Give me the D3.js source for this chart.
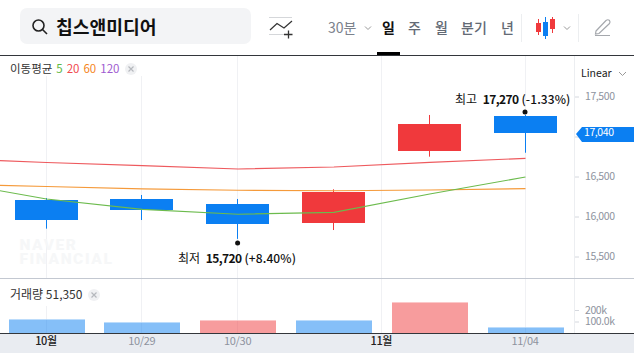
<!DOCTYPE html>
<html>
  <head>
    <meta charset="utf-8">
    <title>칩스앤미디어</title>
    <script src="https://d3js.org/d3.v7.min.js"></script>
    <style>
    html, body { margin: 0; padding: 0; background: white; overflow: hidden; }
    text { font-family: "Noto Sans CJK KR", "Noto Sans", sans-serif; }
    .price-axis text, .volume-axis text { font-size: 10.5px; fill: #8e939e; letter-spacing: -0.4px; }
    .price-axis line, .volume-axis line { stroke: #d5d8de; }
    .date-axis text { font-size: 11px; fill: #8e939e; letter-spacing: -0.3px; }
    .date-axis text.month { fill: #222; font-weight: 500; }
    .tool { font-size: 14px; fill: #636a75; font-weight: 500; }
    </style>
  </head>
  <body>
      <script>
          var width = 634;
          var height = 353;

          // daily candles, 10/28 .. 11/04 (the chart's tick labels only show some of them)
          var dates  = ["10/28", "10/29", "10/30", "10/31", "11/01", "11/04"];
          var opens  = [16206, 16219, 16156, 15922, 16819, 17256];
          var closes = [15956, 16081, 15910, 16310, 17156, 17040];
          var highs  = [16231, 16269, 16219, 16340, 17269, 17270];
          var lows   = [15848, 15956, 15720, 15831, 16748, 16797];
          var volumes = [122000, 96000, 113000, 113000, 270000, 51350];
          // volume bars follow the change from the previous close, not the candle body
          var volumeUp = [false, false, true, false, true, false];

          // moving averages, first value belongs to the candle just off the left edge
          var maIndex = [-1, 0, 1, 2, 3, 4, 5];
          var ma5  = [16431, 16219, 16090, 16028, 16052, 16281, 16494];
          var ma20 = [16725, 16675, 16637, 16594, 16619, 16677, 16727];
          var ma60 = [16406, 16375, 16346, 16328, 16322, 16331, 16348];

          var priceTicks = [15500, 16000, 16500, 17000, 17500];
          var priceTickLabels = ["15,500", "16,000", "16,500", "", "17,500"];
          var volumeTicks = [100000, 200000];
          var volumeTickLabels = ["100.0k", "200k"];
          var dateTicks = [0, 1, 2, 3.5, 5];
          var dateTickLabels = ["10월", "10/29", "10/30", "11월", "11/04"];
          var periods = ["일", "주", "월", "분기", "년"];

          var blue = "#0b7ff2";
          var red = "#f0393c";

          var x = d3.scaleLinear().domain([0, 5]).range([46.5, 525.5]);
          var y = d3.scaleLinear().domain([15500, 17500]).range([256.5, 96.5]);
          var yVol = d3.scaleLinear().domain([0, 200000]).range([333, 310]);

          var svg = d3.select("body")
                      .append("svg")
                      .attr("height", height)
                      .attr("width", width)
                      .style("display", "block")
                      .style("background", "white");

          // clip for lines running off the left side
          svg.append("clipPath").attr("id", "pane")
             .append("rect").attr("x", 0).attr("y", 56).attr("width", 574).attr("height", 222);

          // ---- grid
          svg.append("g").selectAll("line")
             .data(dateTicks)
             .enter().append("line")
             .attr("x1", function(d){ return Math.round(x(d)) - 0.5; })
             .attr("x2", function(d){ return Math.round(x(d)) - 0.5; })
             .attr("y1", 56).attr("y2", 333)
             .attr("stroke", "#f0f1f4");
          svg.append("line").attr("x1", 574.5).attr("x2", 574.5).attr("y1", 56).attr("y2", 333).attr("stroke", "#eceef1");

          // legends sit on white boxes that hide the grid
          svg.append("rect").attr("x", 0).attr("y", 56).attr("width", 150).attr("height", 20).attr("fill", "white");
          svg.append("rect").attr("x", 0).attr("y", 279).attr("width", 110).attr("height", 27).attr("fill", "white");

          // watermark
          var mark = svg.append("text").attr("fill", "#f6f7f8").style("font-weight", 900)
                        .style("font-family", "Roboto, sans-serif").style("font-size", "15.5px").style("letter-spacing", "1.6px");
          mark.append("tspan").attr("x", 19.5).attr("y", 249.5).text("NAVER");
          mark.append("tspan").attr("x", 19.5).attr("y", 263.5).text("FINANCIAL");

          // ---- candles
          var candles = svg.append("g").selectAll("g")
                           .data(dates)
                           .enter().append("g");

          function candleColor(i) { return closes[i] >= opens[i] ? red : blue; }

          candles.append("line")
                 .attr("x1", function(d, i){ return Math.round(x(i)) - 0.5; })
                 .attr("x2", function(d, i){ return Math.round(x(i)) - 0.5; })
                 .attr("y1", function(d, i){ return y(highs[i]); })
                 .attr("y2", function(d, i){ return y(lows[i]); })
                 .attr("stroke", function(d, i){ return candleColor(i); });

          candles.append("rect")
                 .attr("x", function(d, i){ return Math.round(x(i)) - 32; })
                 .attr("width", 63)
                 .attr("y", function(d, i){ return Math.round(y(Math.max(opens[i], closes[i]))); })
                 .attr("height", function(d, i){ return Math.round(Math.abs(y(opens[i]) - y(closes[i]))); })
                 .attr("fill", function(d, i){ return candleColor(i); });

          // ---- moving averages, over the candles
          var line = d3.line()
                       .x(function(d, i){ return x(maIndex[i]); })
                       .y(function(d){ return y(d); });

          var maGroup = svg.append("g").attr("clip-path", "url(#pane)").attr("fill", "none").attr("stroke-width", 1.2);
          maGroup.append("path").attr("d", line(ma20)).attr("stroke", "#ee5a5e");
          maGroup.append("path").attr("d", line(ma60)).attr("stroke", "#f59a3a");
          maGroup.append("path").attr("d", line(ma5)).attr("stroke", "#6cbb4d");

          // ---- high / low markers
          svg.append("circle").attr("cx", x(5) - 0.5).attr("cy", y(17270) - 3).attr("r", 2.5).attr("fill", "#111");
          svg.append("circle").attr("cx", x(2) - 0.5).attr("cy", y(15720) + 4).attr("r", 2.5).attr("fill", "#111");

          var hi = svg.append("text").attr("x", 455).attr("y", 104).style("font-size", "12px").attr("fill", "#111");
          hi.append("tspan").text("최고 ");
          hi.append("tspan").attr("dx", 3).style("font-weight", 700).style("letter-spacing", "-0.6px").text("17,270");
          hi.append("tspan").attr("dx", 3).style("font-weight", 500).style("letter-spacing", "0.1px").text("(-1.33%)");

          var lo = svg.append("text").attr("x", 178).attr("y", 263).style("font-size", "12px").attr("fill", "#111");
          lo.append("tspan").text("최저 ");
          lo.append("tspan").attr("dx", 3).style("font-weight", 700).style("letter-spacing", "-0.6px").text("15,720");
          lo.append("tspan").attr("dx", 3).style("font-weight", 500).style("letter-spacing", "0.1px").text("(+8.40%)");

          // ---- volume bars
          var volGroup = svg.append("g").selectAll("g").data(volumes).enter().append("g");
          volGroup.append("rect")
                  .attr("x", function(d, i){ return Math.round(x(i)) - 38; })
                  .attr("width", 76)
                  .attr("y", function(d){ return Math.round(yVol(d)); })
                  .attr("height", function(d){ return 333 - Math.round(yVol(d)); })
                  .attr("fill", function(d, i){ return volumeUp[i] ? red : blue; })
                  .attr("opacity", 0.5);
          volGroup.append("rect")
                  .attr("x", function(d, i){ return Math.round(x(i)) - 38; })
                  .attr("width", 76)
                  .attr("y", function(d){ return Math.round(yVol(d)); })
                  .attr("height", 1)
                  .attr("fill", "white")
                  .attr("opacity", 0.45);

          // ---- panes
          svg.append("line").attr("x1", 0).attr("x2", width).attr("y1", 278.5).attr("y2", 278.5).attr("stroke", "#c3c8d1");
          svg.append("rect").attr("x", 0).attr("y", 334).attr("width", width).attr("height", 19).attr("fill", "#e9ecf1");
          svg.append("line").attr("x1", 0).attr("x2", width).attr("y1", 333.5).attr("y2", 333.5).attr("stroke", "#33363b");
          svg.append("line").attr("x1", 0).attr("x2", width).attr("y1", 55.5).attr("y2", 55.5).attr("stroke", "#33363b");

          // ---- axes
          var priceAxis = d3.axisRight(y).tickValues(priceTicks)
                            .tickFormat(function(d, i){ return priceTickLabels[i]; })
                            .tickSize(4).tickPadding(6);
          svg.append("g").attr("class", "price-axis").attr("transform", "translate(575,0)").call(priceAxis)
             .select(".domain").remove();

          var volumeAxis = d3.axisRight(yVol).tickValues(volumeTicks)
                             .tickFormat(function(d, i){ return volumeTickLabels[i]; })
                             .tickSize(4).tickPadding(6);
          svg.append("g").attr("class", "volume-axis").attr("transform", "translate(575,0)").call(volumeAxis)
             .select(".domain").remove();

          var dateAxis = d3.axisBottom(x).tickValues(dateTicks)
                           .tickFormat(function(d, i){ return dateTickLabels[i]; })
                           .tickSize(0).tickPadding(3);
          var dateG = svg.append("g").attr("class", "date-axis").attr("transform", "translate(-1,334)").call(dateAxis);
          dateG.select(".domain").remove();
          dateG.selectAll("text").classed("month", function(d, i){ return dateTickLabels[i].indexOf("월") >= 0; });

          // last price flag
          svg.append("path").attr("d", "M576,134 L582,127 H634 V142 H582 Z").attr("fill", blue);
          svg.append("text").attr("x", 584).attr("y", 136).attr("fill", "white").style("font-size", "10.5px").style("letter-spacing", "-0.4px").text("17,040");

          svg.append("text").attr("x", 581).attr("y", 77).attr("fill", "#222").style("font-size", "10.5px").text("Linear");
          svg.append("path").attr("d", "M619,72 L622.5,75.5 L626,72").attr("fill", "none").attr("stroke", "#999");

          // ---- legends
          var maLegend = svg.append("text").attr("x", 10).attr("y", 73).style("font-size", "11.5px").attr("fill", "#333");
          maLegend.append("tspan").text("이동평균");
          maLegend.append("tspan").attr("dx", 4).attr("fill", "#5fb946").text("5");
          maLegend.append("tspan").attr("dx", 4).attr("fill", "#f0494e").text("20");
          maLegend.append("tspan").attr("dx", 4).attr("fill", "#f5871f").text("60");
          maLegend.append("tspan").attr("dx", 4).attr("fill", "#a05bd0").text("120");

          function closeBadge(cx, cy) {
            svg.append("circle").attr("cx", cx).attr("cy", cy).attr("r", 6).attr("fill", "#f0f1f3");
            svg.append("path").attr("d", "M" + (cx-2.5) + "," + (cy-2.5) + "L" + (cx+2.5) + "," + (cy+2.5) + "M" + (cx+2.5) + "," + (cy-2.5) + "L" + (cx-2.5) + "," + (cy+2.5))
               .attr("stroke", "#b5b8bd").attr("stroke-width", 1.2);
          }
          closeBadge(131, 69);
          closeBadge(94, 295);

          svg.append("text").attr("x", 10).attr("y", 299).style("font-size", "12px").attr("fill", "#333").text("거래량 51,350");

          // ---- header
          svg.append("rect").attr("x", 20).attr("y", 8).attr("width", 231).attr("height", 36).attr("rx", 7).attr("fill", "#f3f4f6");
          svg.append("circle").attr("cx", 38.5).attr("cy", 25.5).attr("r", 5.5).attr("fill", "none").attr("stroke", "#222").attr("stroke-width", 1.6);
          svg.append("line").attr("x1", 42.5).attr("y1", 29.5).attr("x2", 47).attr("y2", 34).attr("stroke", "#222").attr("stroke-width", 1.6);
          svg.append("text").attr("x", 56).attr("y", 33.5).style("font-size", "18.2px").style("font-weight", 700).attr("fill", "#111").text("칩스앤미디어");

          // add-indicator icon
          svg.append("path").attr("d", "M269,17.5H292M269,34.5H285").attr("stroke", "#d5d7da").attr("stroke-width", 1.2);
          svg.append("path").attr("d", "M270,30L277,23.5L284,28L292,21").attr("fill", "none").attr("stroke", "#333").attr("stroke-width", 1.2);
          svg.append("path").attr("d", "M284,34.5H292.5M288.5,30.5V38.5").attr("stroke", "#333").attr("stroke-width", 1.3);

          // period buttons
          svg.append("text").attr("x", 328).attr("y", 33).attr("fill", "#7c828c").style("font-size", "14px").text("30분");
          svg.append("path").attr("d", "M365,26.5L368,29.5L371,26.5").attr("fill", "none").attr("stroke", "#999");
          var periodX = [382, 408, 435, 461, 501];
          svg.append("g").selectAll("text").data(periods).enter().append("text")
             .attr("class", "tool")
             .attr("x", function(d, i){ return periodX[i]; })
             .attr("y", 33)
             .style("fill", function(d, i){ return i == 0 ? "#111" : null; })
             .style("font-weight", function(d, i){ return i == 0 ? 700 : null; })
             .text(function(d){ return d; });
          svg.append("rect").attr("x", 377).attr("y", 52).attr("width", 23).attr("height", 3).attr("fill", "#000");

          svg.append("line").attr("x1", 521.5).attr("x2", 521.5).attr("y1", 14).attr("y2", 42).attr("stroke", "#eceef0");
          svg.append("line").attr("x1", 578.5).attr("x2", 578.5).attr("y1", 14).attr("y2", 42).attr("stroke", "#eceef0");

          // candle type icon
          svg.append("path").attr("d", "M538.5,19V35M552.5,17V33").attr("stroke", red).attr("stroke-width", 1);
          svg.append("rect").attr("x", 536).attr("y", 23).attr("width", 5).attr("height", 9).attr("fill", red);
          svg.append("line").attr("x1", 545.5).attr("x2", 545.5).attr("y1", 17).attr("y2", 39).attr("stroke", blue);
          svg.append("rect").attr("x", 543).attr("y", 22).attr("width", 5).attr("height", 14).attr("fill", blue);
          svg.append("rect").attr("x", 550).attr("y", 19).attr("width", 5).attr("height", 10).attr("fill", red);
          svg.append("path").attr("d", "M564,26.5L567,29.5L570,26.5").attr("fill", "none").attr("stroke", "#999");

          // pencil icon
          svg.append("path").attr("d", "M596,31L606,20.5Q608,19 609.5,20.5Q610.5,22 609.5,23.5L599,33.5L595.5,34Z").attr("fill", "none").attr("stroke", "#a5a8ad").attr("stroke-width", 1.2);
          svg.append("line").attr("x1", 595).attr("x2", 610).attr("y1", 35.5).attr("y2", 35.5).attr("stroke", "#a5a8ad");
      </script>
  </body>
</html>
